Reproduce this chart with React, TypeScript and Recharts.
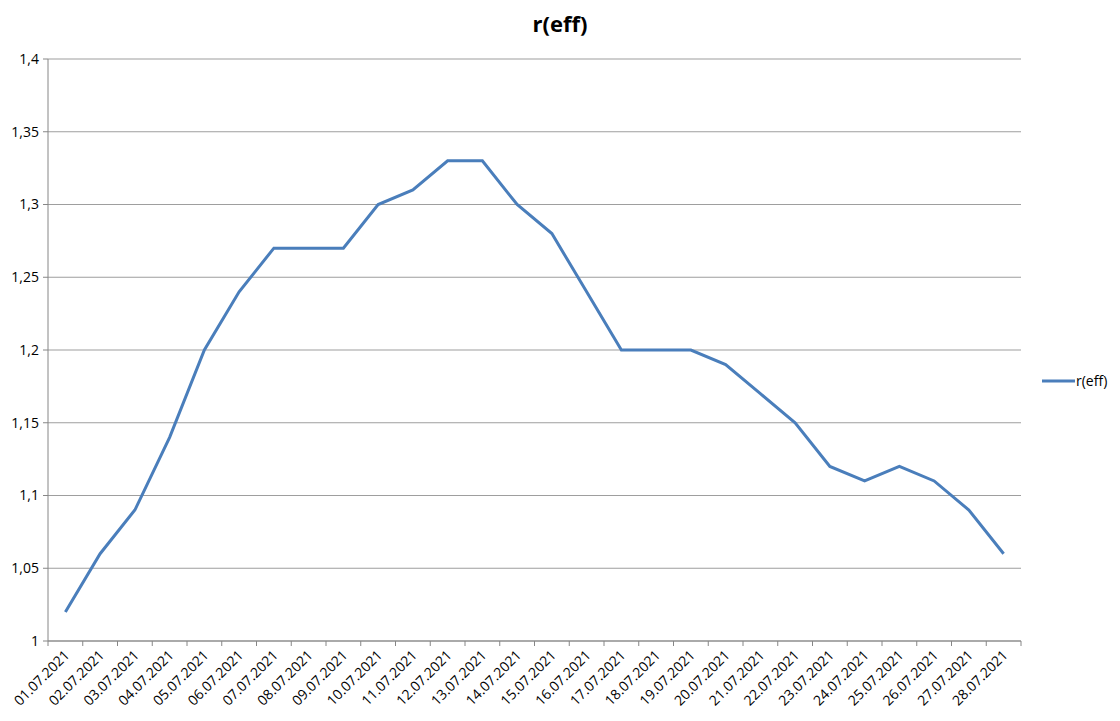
import React from 'react';
import { LineChart, Line, XAxis, YAxis, CartesianGrid } from 'recharts';

const dates = [
  '01.07.2021','02.07.2021','03.07.2021','04.07.2021','05.07.2021','06.07.2021','07.07.2021',
  '08.07.2021','09.07.2021','10.07.2021','11.07.2021','12.07.2021','13.07.2021','14.07.2021',
  '15.07.2021','16.07.2021','17.07.2021','18.07.2021','19.07.2021','20.07.2021','21.07.2021',
  '22.07.2021','23.07.2021','24.07.2021','25.07.2021','26.07.2021','27.07.2021','28.07.2021',
];
const reff = [
  1.02, 1.06, 1.09, 1.14, 1.20, 1.24, 1.27,
  1.27, 1.27, 1.30, 1.31, 1.33, 1.33, 1.30,
  1.28, 1.24, 1.20, 1.20, 1.20, 1.19, 1.17,
  1.15, 1.12, 1.11, 1.12, 1.11, 1.09, 1.06,
];
const yTicks = [1, 1.05, 1.1, 1.15, 1.2, 1.25, 1.3, 1.35, 1.4];
const seriesName = 'r(eff)';
const title = 'r(eff)';

const data = dates.map((d, i) => ({ date: d, value: reff[i] }));

const FONT = '"Open Sans", "Liberation Sans", sans-serif';
const AXIS = '#868686';
const LINE = '#4a7ebb';

const XTick = (props: any) => {
  const { x, y, payload, index } = props;
  const off = payload.offset || 0;
  const axisY = y - 7;
  const last = index === dates.length - 1;
  return (
    <g>
      <line x1={x - off} x2={x - off} y1={axisY} y2={axisY + 5} stroke={AXIS} />
      {last && <line x1={x + off} x2={x + off} y1={axisY} y2={axisY + 5} stroke={AXIS} />}
      <text
        x={x + 5}
        y={axisY + 15}
        textAnchor="end"
        transform={`rotate(-45, ${x + 5}, ${axisY + 15})`}
        fontSize={14}
        fontFamily={FONT}
        fill="#000"
      >
        {payload.value}
      </text>
    </g>
  );
};

const fmtY = (v: number) => String(Math.round(v * 100) / 100).replace('.', ',');

export default function App() {
  return (
    <div style={{ position: 'absolute', left: 0, top: 0, width: 1120, height: 721, background: '#fff' }}>
      <div
        style={{
          position: 'absolute',
          left: 0,
          width: 1120,
          top: 8,
          textAlign: 'center',
          fontFamily: FONT,
          fontWeight: 700,
          fontSize: 22,
          lineHeight: '30px',
          color: '#000',
        }}
      >
        {title}
      </div>
      <div
        style={{
          position: 'absolute',
          left: 1042,
          top: 371,
          display: 'flex',
          alignItems: 'center',
          fontFamily: FONT,
          fontSize: 14,
          lineHeight: '20px',
          color: '#000',
        }}
      >
        <svg width={33} height={6} style={{ display: 'block' }}>
          <line x1={0} x2={33} y1={3} y2={3} stroke={LINE} strokeWidth={3} />
        </svg>
        <span style={{ marginLeft: 1 }}>{seriesName}</span>
      </div>
      <LineChart
        width={1120}
        height={721}
        data={data}
        margin={{ top: 59, right: 99, left: 0, bottom: 0 }}
      >
        <CartesianGrid vertical={false} stroke={AXIS} strokeOpacity={0.8} />
        <XAxis
          dataKey="date"
          scale="band"
          interval={0}
          height={80}
          stroke={AXIS}
          tickLine={false}
          tickSize={5}
          tickMargin={2}
          tick={<XTick />}
        />
        <YAxis
          width={48}
          domain={[1, 1.4]}
          ticks={yTicks}
          tickFormatter={fmtY}
          stroke={AXIS}
          tickSize={5}
          tickMargin={4}
          tick={{ fill: '#000', fontSize: 14, fontFamily: FONT }}
          interval={0}
        />
        <Line
          type="linear"
          dataKey="value"
          name={seriesName}
          stroke={LINE}
          strokeWidth={3}
          dot={false}
          activeDot={false}
          isAnimationActive={false}
        />
      </LineChart>
    </div>
  );
}
